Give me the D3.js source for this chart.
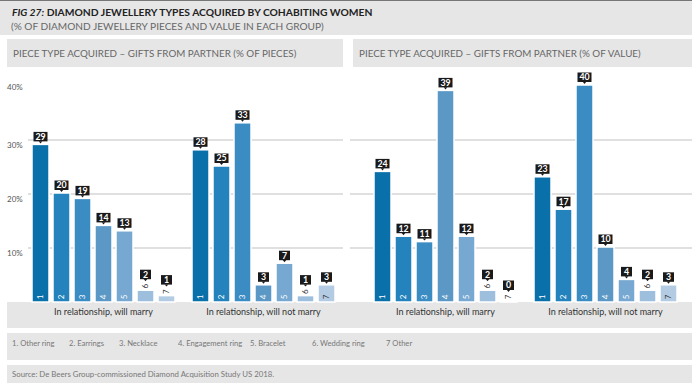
<!DOCTYPE html>
<html>
<head>
<meta charset="utf-8">
<script src="https://cdn.jsdelivr.net/npm/d3@7"></script>
<style>
  body { margin: 0; background: #fff; }
  svg { display: block; font-family: Lato, "Open Sans", sans-serif; }
</style>
</head>
<body>
<script>
// Chart data
var panels = ["PIECE TYPE ACQUIRED \u2013 GIFTS FROM PARTNER (% OF PIECES)",
              "PIECE TYPE ACQUIRED \u2013 GIFTS FROM PARTNER (% OF VALUE)"];
var groups = ["In relationship, will marry", "In relationship, will not marry"];
var pieceTypes = ["1", "2", "3", "4", "5", "6", "7"];
var legendLabels = ["1. Other ring", "2. Earrings", "3. Necklace", "4. Engagement ring",
                    "5. Bracelet", "6. Wedding ring", "7 Other"];
var yTicks = [10, 20, 30, 40];

// values per panel, per group, per piece type
var piecesMarry = [29, 20, 19, 14, 13, 2, 1];
var piecesNotMarry = [28, 25, 33, 3, 7, 1, 3];
var valueMarry = [24, 12, 11, 39, 12, 2, 0];
var valueNotMarry = [23, 17, 40, 10, 4, 2, 3];
var panelValues = [[piecesMarry, piecesNotMarry], [valueMarry, valueNotMarry]];

var colors = ["#0a70a9", "#2482bd", "#3b8cc3", "#5b98c6", "#77a8d1", "#9dbedd", "#b3cce4"];

var svgWidth = 700;
var svgHeight = 389;

var svg = d3.select("body")
  .append("svg")
  .attr("width", svgWidth)
  .attr("height", svgHeight);

// Header
svg.append("rect").attr("x", 0).attr("y", 0).attr("width", 692).attr("height", 35).attr("fill", "#e6e6e6");
svg.append("line").attr("x1", 0).attr("x2", 692).attr("y1", 0.5).attr("y2", 0.5).attr("stroke", "#777").attr("stroke-width", 1);

var title = svg.append("text").attr("x", 12).attr("y", 16)
  .attr("font-size", 10.3).attr("font-weight", "bold").attr("fill", "#222");
title.append("tspan").attr("font-style", "italic").text("FIG 27:");
title.append("tspan").text(" DIAMOND JEWELLERY TYPES ACQUIRED BY COHABITING WOMEN");

svg.append("text").attr("x", 11).attr("y", 30)
  .attr("font-size", 10.1).attr("fill", "#666")
  .text("(% OF DIAMOND JEWELLERY PIECES AND VALUE IN EACH GROUP)");

// Scales
var panelScale = d3.scaleBand().domain([0, 1]).range([33, 33 + 342 * 2]);
var groupScale = d3.scaleBand().domain(groups).range([0, 301]).paddingInner(19 / 160);
var barScale = d3.scaleBand().domain(pieceTypes).range([0, groupScale.bandwidth()]).paddingInner(6 / 21);
var yScale = d3.scaleLinear().domain([0, 40]).range([302, 86]);

var panelBoxes = [[7, 343], [353, 692]];
var gridExtent = [[28, 343], [350, 692]];

// Subheaders
panels.forEach(function(p, i) {
  svg.append("rect").attr("x", panelBoxes[i][0]).attr("y", 39)
    .attr("width", panelBoxes[i][1] - panelBoxes[i][0]).attr("height", 28).attr("fill", "#e6e6e6");
  svg.append("text").attr("x", panelBoxes[i][0] + 6).attr("y", 57)
    .attr("font-size", 9.8).attr("fill", "#666").text(p);
});

// Gridlines
panels.forEach(function(p, i) {
  svg.append("g").selectAll("line").data(yTicks.slice(0, 3)).join("line")
    .attr("x1", gridExtent[i][0]).attr("x2", gridExtent[i][1])
    .attr("y1", d => yScale(d)).attr("y2", d => yScale(d))
    .attr("stroke", "#d6d6d6").attr("stroke-width", 1.5);
});

// Y axis labels
svg.append("g").selectAll("text").data(yTicks).join("text")
  .attr("x", 7).attr("y", d => yScale(d) + (d === 40 ? 4 : 8))
  .attr("font-size", 8).attr("fill", "#555")
  .text(d => d + "%");

// Bottom bands
svg.append("rect").attr("x", 7).attr("y", 302).attr("width", 685).attr("height", 26).attr("fill", "#e6e6e6");
svg.append("rect").attr("x", 7).attr("y", 333).attr("width", 685).attr("height", 27).attr("fill", "#e6e6e6");
svg.append("rect").attr("x", 7).attr("y", 365).attr("width", 685).attr("height", 18).attr("fill", "#e6e6e6");

// Bars
panelValues.forEach(function(pv, pi) {
  var pg = svg.append("g").attr("transform", "translate(" + panelScale(pi) + ",0)");
  groups.forEach(function(gname, gi) {
    var gg = pg.append("g").attr("transform", "translate(" + groupScale(gname) + ",0)");
    var data = pv[gi].map(function(v, k) { return { type: pieceTypes[k], value: v, idx: k }; });

    gg.selectAll("rect.bar").data(data).join("rect")
      .attr("class", "bar")
      .attr("x", d => barScale(d.type) - 1)
      .attr("width", barScale.bandwidth() + 2)
      .attr("y", d => yScale(d.value) - 1)
      .attr("height", d => yScale(0) - yScale(d.value) + 1)
      .attr("fill", d => colors[d.idx])
      .attr("stroke", "#fff").attr("stroke-width", 1.5);

    // piece type number
    gg.selectAll("text.num").data(data).join("text")
      .attr("class", "num")
      .attr("transform", function(d) {
        var cx = barScale(d.type) + barScale.bandwidth() / 2;
        var y = d.value >= 3 ? yScale(0) - 5 : yScale(d.value) - 5;
        return "translate(" + cx + "," + y + ") rotate(-90)";
      })
      .attr("text-anchor", "middle").attr("dy", "0.35em")
      .attr("font-size", 8)
      .attr("fill", d => (d.value >= 3 && d.idx < 5) ? "#fff" : "#333")
      .text(d => d.type);

    // value callouts
    var callout = gg.selectAll("g.callout").data(data).join("g")
      .attr("class", "callout")
      .attr("transform", function(d) {
        var cx = barScale(d.type) + barScale.bandwidth() / 2;
        var bottom = d.value >= 3 ? yScale(d.value) - 3 : yScale(d.value) - 11;
        return "translate(" + cx + "," + bottom + ")";
      });
    callout.append("rect")
      .attr("x", d => d.value >= 10 ? -7 : -5.5)
      .attr("width", d => d.value >= 10 ? 14 : 11)
      .attr("y", -10.5).attr("height", 9.5)
      .attr("fill", "#1a1a1a");
    callout.append("path")
      .attr("d", "M-1.8,-1.2L1.8,-1.2L0,1Z")
      .attr("fill", "#1a1a1a");
    callout.append("text")
      .attr("y", -2.7).attr("text-anchor", "middle")
      .attr("font-size", 8.8).attr("font-weight", "bold").attr("fill", "#fff")
      .text(d => d.value);
  });

  // group labels
  pg.selectAll("text.glabel").data(groups).join("text")
    .attr("class", "glabel")
    .attr("x", d => groupScale(d) + groupScale.bandwidth() / 2)
    .attr("y", 315).attr("text-anchor", "middle")
    .attr("font-size", 9).attr("fill", "#333")
    .text(d => d);
});

// Legend
var legendX = [12, 69, 119, 178, 250, 312, 386];
svg.append("g").selectAll("text").data(legendLabels).join("text")
  .attr("x", (d, i) => legendX[i]).attr("y", 346)
  .attr("font-size", 7.6).attr("fill", "#777")
  .text(d => d);

// Source
svg.append("text").attr("x", 12).attr("y", 377)
  .attr("font-size", 7.8).attr("fill", "#777")
  .text("Source: De Beers Group-commissioned Diamond Acquisition Study US 2018.");
</script>
</body>
</html>
